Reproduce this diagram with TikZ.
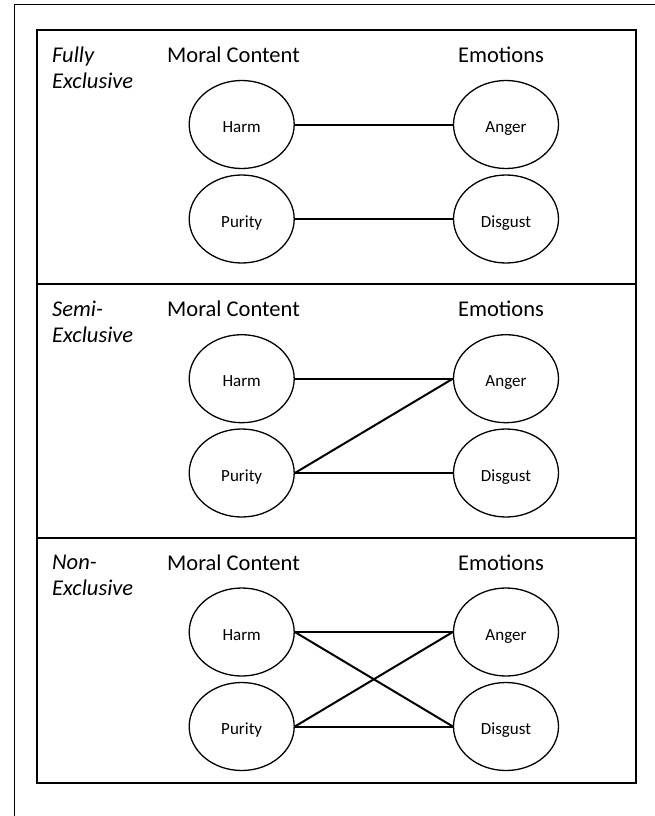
\documentclass[tikz,border=0pt]{standalone}
\usepackage{fontspec}
\setmainfont{Carlito}
\usepackage{tikz}
\usetikzlibrary{shapes.geometric}

\tikzset{
  moral/.style={draw, ellipse, line width=1.3pt, minimum width=105pt, minimum height=88pt,
    inner sep=0pt, font=\fontsize{17}{20}\selectfont, text height=16pt, text depth=0pt},
  heading/.style={anchor=base, font=\fontsize{22.5}{26}\selectfont},
  kind/.style={anchor=base west, align=left, inner sep=0pt, font=\fontsize{22.5}{26}\selectfont\itshape},
  link/.style={line width=2pt}
}

\begin{document}
\begin{tikzpicture}[x=1pt, y=-1pt]
    \useasboundingbox (0,0) rectangle (655,816);

    % Outer frame (only top and left edges show)
    \draw[line width=1pt] (14.3,816) -- (14.3,5) -- (655,5);

    % Panels
    \draw[line width=2pt] (36.7,30) rectangle (636,782.7);
    \draw[line width=2pt] (36.7,284.3) -- (636,284.3);
    \draw[line width=2pt] (36.7,537.7) -- (636,537.7);

    % Fully exclusive
    \node[kind] (fullyTxt) at (52,88.2) {Fully\\Exclusive};
    \node[heading] (moral1) at (233.5,62.5) {Moral Content};
    \node[heading] (emo1) at (501,62.5) {Emotions};
    \node[moral] (harm1) at (241.7,124.5) {Harm};
    \node[moral] (purity1) at (241.7,219) {Purity};
    \node[moral] (anger1) at (506,124.5) {Anger};
    \node[moral] (disgust1) at (506,219) {Disgust};
    \draw[link] (harm1.east) -- (anger1.west);
    \draw[link] (purity1.east) -- (disgust1.west);

    % Semi-exclusive
    \node[kind] (semiTxt) at (52,342.2) {Semi-\\Exclusive};
    \node[heading] (moral2) at (233.5,316.5) {Moral Content};
    \node[heading] (emo2) at (501,316.5) {Emotions};
    \node[moral] (harm2) at (241.7,378.7) {Harm};
    \node[moral] (purity2) at (241.7,473) {Purity};
    \node[moral] (anger2) at (506,378.7) {Anger};
    \node[moral] (disgust2) at (506,473) {Disgust};
    \draw[link] (harm2.east) -- (anger2.west);
    \draw[link] (purity2.east) -- (anger2.west);
    \draw[link] (purity2.east) -- (disgust2.west);

    % Non-exclusive
    \node[kind] (nonTxt) at (52,595.5) {Non-\\Exclusive};
    \node[heading] (moral3) at (233.5,570.5) {Moral Content};
    \node[heading] (emo3) at (501,570.5) {Emotions};
    \node[moral] (harm3) at (241.7,632) {Harm};
    \node[moral] (purity3) at (241.7,726.5) {Purity};
    \node[moral] (anger3) at (506,632) {Anger};
    \node[moral] (disgust3) at (506,726.5) {Disgust};
    \draw[link] (harm3.east) -- (anger3.west);
    \draw[link] (harm3.east) -- (disgust3.west);
    \draw[link] (purity3.east) -- (anger3.west);
    \draw[link] (purity3.east) -- (disgust3.west);

\end{tikzpicture}
\end{document}
